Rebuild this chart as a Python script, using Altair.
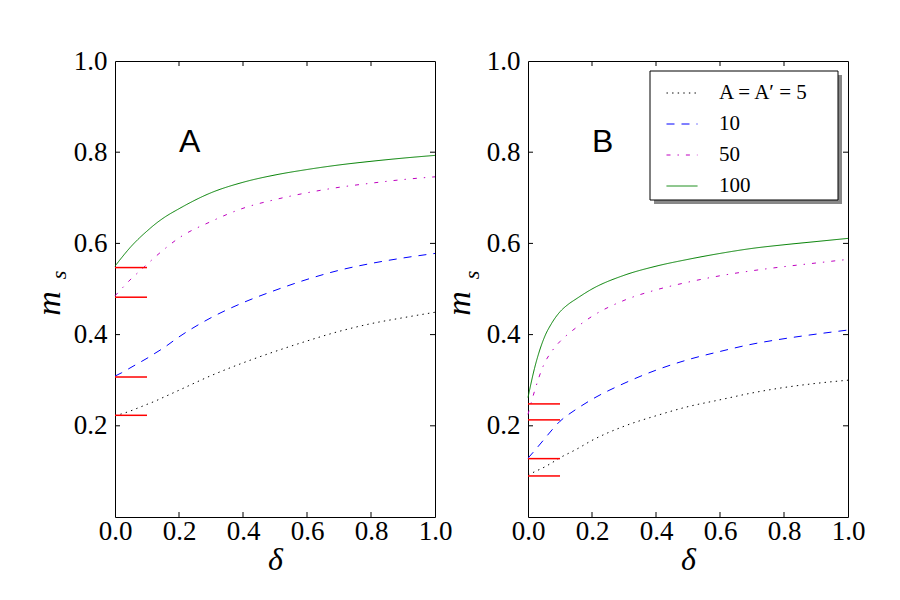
import altair as alt
import pandas as pd

SERIF = "Liberation Serif"
SANS = "Liberation Sans"
W, H = 320, 456

delta = [0, 0.02, 0.05, 0.075, 0.1, 0.125, 0.15, 0.2, 0.3, 0.4, 0.5, 0.6, 0.7, 0.8, 0.9, 1.0]
series_names = ["A = A′ = 5", "10", "50", "100"]
series_colors = ["black", "#0000ff", "#bf00bf", "#008000"]
series_dashes = [[1.4, 4.2], [8, 7], [4, 7, 1.4, 7], [1, 0]]

# Panel A values (m_s vs delta)
a_5 = [0.222, 0.226, 0.233, 0.240, 0.247, 0.254, 0.262, 0.278, 0.310, 0.338, 0.363, 0.386, 0.407, 0.424, 0.437, 0.449]
a_10 = [0.309, 0.316, 0.328, 0.338, 0.348, 0.359, 0.370, 0.395, 0.437, 0.470, 0.497, 0.521, 0.541, 0.556, 0.568, 0.578]
a_50 = [0.485, 0.500, 0.522, 0.538, 0.554, 0.570, 0.585, 0.612, 0.648, 0.677, 0.696, 0.711, 0.723, 0.732, 0.740, 0.746]
a_100 = [0.550, 0.568, 0.593, 0.611, 0.627, 0.642, 0.655, 0.676, 0.711, 0.734, 0.750, 0.762, 0.772, 0.780, 0.787, 0.793]
a_marks = [0.223, 0.307, 0.482, 0.547]

# Panel B values
b_5 = [0.092, 0.099, 0.109, 0.119, 0.130, 0.139, 0.148, 0.168, 0.199, 0.222, 0.242, 0.257, 0.272, 0.284, 0.293, 0.300]
b_10 = [0.129, 0.145, 0.170, 0.191, 0.210, 0.224, 0.236, 0.258, 0.293, 0.322, 0.345, 0.363, 0.379, 0.391, 0.401, 0.410]
b_50 = [0.225, 0.275, 0.335, 0.364, 0.385, 0.401, 0.415, 0.440, 0.475, 0.498, 0.515, 0.529, 0.540, 0.549, 0.557, 0.565]
b_100 = [0.262, 0.325, 0.392, 0.426, 0.450, 0.466, 0.478, 0.500, 0.530, 0.550, 0.565, 0.578, 0.589, 0.597, 0.604, 0.611]
b_marks = [0.090, 0.128, 0.213, 0.248]

mark_x0, mark_x1 = 0.0, 0.1
x_ticks = [0.0, 0.2, 0.4, 0.6, 0.8, 1.0]
y_ticks = [0.2, 0.4, 0.6, 0.8, 1.0]

xscale = alt.Scale(domain=[0, 1], nice=False, zero=False)
yscale = alt.Scale(domain=[0, 1], nice=False, zero=False)
xax = alt.Axis(values=x_ticks, format=".1f", title="δ", titleFont=SERIF, titleFontStyle="italic",
               titleFontWeight="normal", titleFontSize=32, titleColor="black", titlePadding=0,
               labelFont=SERIF, labelFontSize=27, labelColor="black", labelPadding=1,
               labelFlush=False, labelOverlap=False, domain=False, ticks=False, grid=False)
yax = alt.Axis(values=y_ticks, format=".1f", title=None,
               labelFont=SERIF, labelFontSize=27, labelColor="black", labelPadding=8,
               labelOverlap=False, domain=False, ticks=False, grid=False)


def X(f):
    return alt.X(f, type="quantitative", scale=xscale, axis=xax)


def Y(f):
    return alt.Y(f, type="quantitative", scale=yscale, axis=yax)


def panel(vals, marks, label, show_legend, mx, sx):
    rows = []
    for name, ys in zip(series_names, vals):
        for d, v in zip(delta, ys):
            rows.append({"delta": d, "ms": v, "series": name})
    df = pd.DataFrame(rows)
    if show_legend:
        leg = alt.Legend(orient="none", legendX=138, legendY=16, title=None, symbolType="stroke",
                         symbolSize=961, symbolStrokeWidth=1, labelFont=SERIF, labelFontSize=21,
                         labelColor="black", padding=0, symbolOffset=0, labelOffset=21,
                         rowPadding=5, labelLimit=300)
    else:
        leg = None
    cscale = alt.Scale(domain=series_names, range=series_colors)
    dscale = alt.Scale(domain=series_names, range=series_dashes)
    curves = alt.Chart(df).mark_line(strokeWidth=1, interpolate="monotone").encode(
        x=X("delta"), y=Y("ms"),
        color=alt.Color("series:N", scale=cscale, legend=leg, sort=series_names),
        strokeDash=alt.StrokeDash("series:N", scale=dscale, legend=leg, sort=series_names),
    )
    mdf = pd.DataFrame({"v": marks, "x0": [mark_x0] * len(marks), "x1": [mark_x1] * len(marks)})
    reds = alt.Chart(mdf).mark_rule(color="#ff0000", strokeWidth=1.5).encode(
        x=X("x0"), x2="x1", y=Y("v"))
    xt = pd.DataFrame({"t": x_ticks[1:-1]})
    yt = pd.DataFrame({"t": y_ticks[:-1]})
    tb = alt.Chart(xt).mark_rule(color="black", strokeWidth=1).encode(
        x=X("t"), y=alt.value(H), y2=alt.value(H - 5))
    tt = alt.Chart(xt).mark_rule(color="black", strokeWidth=1).encode(
        x=X("t"), y=alt.value(0), y2=alt.value(5))
    tl = alt.Chart(yt).mark_rule(color="black", strokeWidth=1).encode(
        y=Y("t"), x=alt.value(0), x2=alt.value(5))
    tr = alt.Chart(yt).mark_rule(color="black", strokeWidth=1).encode(
        y=Y("t"), x=alt.value(W), x2=alt.value(W - 5))
    ldf = pd.DataFrame({"x": [0.2], "y": [0.8], "t": [label]})
    lab = alt.Chart(ldf).mark_text(font=SANS, fontSize=32, align="left", baseline="alphabetic",
                                   color="black").encode(x=X("x"), y=Y("y"), text="t")
    mt = alt.Chart(pd.DataFrame({"t": ["m"]})).mark_text(
        font=SERIF, fontStyle="italic", fontSize=34, angle=270, align="center",
        baseline="alphabetic", color="black").encode(
        x=alt.value(mx), y=alt.value(H / 2 + 14.5), text="t")
    st = alt.Chart(pd.DataFrame({"t": ["s"]})).mark_text(
        font=SERIF, fontStyle="italic", fontSize=22, angle=270, align="center",
        baseline="alphabetic", color="black").encode(
        x=alt.value(sx), y=alt.value(H / 2 - 14), text="t")
    layers = []
    if show_legend:
        frame = pd.DataFrame({"t": [0]})
        shadow = alt.Chart(frame).mark_rect(color="#888888").encode(
            x=alt.value(126), x2=alt.value(314), y=alt.value(14), y2=alt.value(143))
        box = alt.Chart(frame).mark_rect(fill="white", stroke="black", strokeWidth=1).encode(
            x=alt.value(122), x2=alt.value(310), y=alt.value(10), y2=alt.value(139))
        layers += [shadow, box]
    layers += [curves, reds, tb, tt, tl, tr, lab, mt, st]
    return alt.layer(*layers).properties(width=W, height=H)


left = panel([a_5, a_10, a_50, a_100], a_marks, "A", False, -55, -49)
right = panel([b_5, b_10, b_50, b_100], b_marks, "B", True, -58, -49)

chart = alt.hconcat(left, right, spacing=93, bounds="flush").resolve_scale(
    color="independent", strokeDash="independent"
).resolve_legend(color="independent", strokeDash="independent").properties(
    padding={"left": 24, "top": 38, "right": 5, "bottom": 5}
).configure_view(stroke="black", strokeWidth=1)

chart.save("out.html", embed_options={"renderer": "svg", "actions": False})
